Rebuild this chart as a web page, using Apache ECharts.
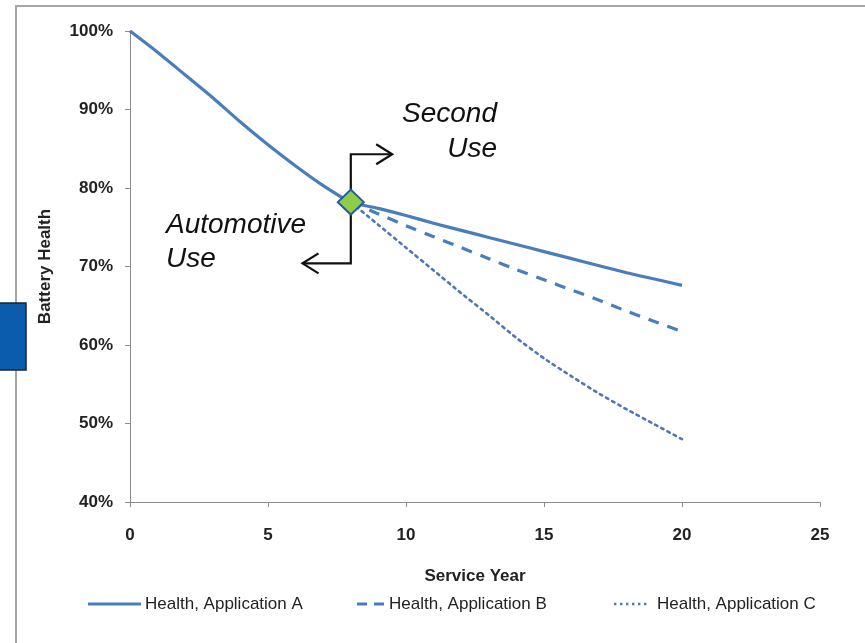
<!DOCTYPE html>
<html>
<head>
<meta charset="utf-8">
<style>
  html, body { margin: 0; padding: 0; background: #ffffff; }
  #chart { width: 865px; height: 643px; }
</style>
<script src="https://cdn.jsdelivr.net/npm/echarts@6/dist/echarts.min.js"></script>
</head>
<body>
<div id="chart"></div>
<script>
// Service years and battery health (%) for each application
const years = [0, 1, 2, 3, 4, 5, 6, 7, 8, 9, 10, 11, 12, 13, 14, 15, 16, 17, 18, 19, 20];
const healthA = [100, 97.3, 94.4, 91.5, 88.4, 85.5, 82.8, 80.3, 78.2, 77.4, 76.5, 75.5, 74.6, 73.7, 72.8, 71.9, 71.0, 70.1, 69.2, 68.4, 67.6];
const healthB = [null, null, null, null, null, null, null, null, 78.2, 76.7, 75.2, 73.8, 72.4, 71.0, 69.6, 68.3, 67.0, 65.7, 64.3, 63.0, 61.7];
const healthC = [null, null, null, null, null, null, null, null, 78.2, 75.3, 72.4, 69.5, 66.6, 63.8, 60.9, 58.3, 56.0, 53.8, 51.8, 49.9, 48.0];
const seriesNames = ['Health, Application A', 'Health, Application B', 'Health, Application C'];

// Hand-over point between automotive and second use
const switchPoint = [8, 78.2];
// Bracket around the hand-over point (year / health %)
const bracketTop = 84.3;
const bracketBottom = 70.4;
const arrowRightYear = 9.5;
const arrowLeftYear = 6.25;

const xTicks = { min: 0, max: 25, interval: 5 };
const yTicks = { min: 40, max: 100, interval: 10 };

const lineBlue = '#4a7ebb';
const axisGrey = '#8c8c8c';
const font = '"Liberation Sans", Arial, sans-serif';

const pairs = arr => years.map((y, i) => [y, arr[i]]);

const chart = echarts.init(document.getElementById('chart'), null, { renderer: 'canvas' });

chart.setOption({
  animation: false,
  backgroundColor: '#ffffff',
  grid: { left: 130, right: 45, top: 31, bottom: 141 },
  xAxis: {
    type: 'value',
    min: xTicks.min, max: xTicks.max, interval: xTicks.interval,
    name: 'Service Year',
    nameLocation: 'middle',
    nameGap: 66,
    nameTextStyle: { fontFamily: font, fontSize: 17, fontWeight: 'bold', color: '#222' },
    axisLine: { show: true, lineStyle: { color: axisGrey, width: 1 } },
    axisTick: { show: true, length: 5, lineStyle: { color: axisGrey } },
    axisLabel: { margin: 25, fontFamily: font, fontSize: 17, fontWeight: 'bold', color: '#222' },
    splitLine: { show: false }
  },
  yAxis: {
    type: 'value',
    min: yTicks.min, max: yTicks.max, interval: yTicks.interval,
    name: 'Battery Health',
    nameLocation: 'middle',
    nameGap: 76,
    nameRotate: 90,
    nameTextStyle: { fontFamily: font, fontSize: 17, fontWeight: 'bold', color: '#222' },
    axisLine: { show: true, lineStyle: { color: axisGrey, width: 1 } },
    axisTick: { show: true, length: 5, lineStyle: { color: axisGrey } },
    axisLabel: { margin: 17, formatter: '{value}%', fontFamily: font, fontSize: 17, fontWeight: 'bold', color: '#222' },
    splitLine: { show: false }
  },
  series: [
    {
      name: seriesNames[0], type: 'line', data: pairs(healthA),
      showSymbol: false, smooth: 0.2, connectNulls: false,
      lineStyle: { color: lineBlue, width: 3.2 }, z: 3
    },
    {
      name: seriesNames[1], type: 'line', data: pairs(healthB),
      showSymbol: false, smooth: 0.2,
      lineStyle: { color: lineBlue, width: 3.2, type: [11, 9] }, z: 2
    },
    {
      name: seriesNames[2], type: 'line', data: pairs(healthC),
      showSymbol: false, smooth: 0.2,
      lineStyle: { color: '#5276b0', width: 2.6, type: [2.6, 4.4], cap: 'round' }, z: 2
    },
    {
      name: 'Switch', type: 'scatter', data: [switchPoint],
      symbol: 'diamond', symbolSize: [26, 25],
      itemStyle: { color: '#8fcc4a', borderColor: '#1f5b9e', borderWidth: 2, opacity: 1 }, z: 5
    }
  ]
});

// Bracket, arrow heads, annotations, legend and frame
function px(x, y) { return chart.convertToPixel({ gridIndex: 0 }, [x, y]); }
const bTop = px(switchPoint[0], bracketTop);
const bBottom = px(switchPoint[0], bracketBottom);
const rightEnd = px(arrowRightYear, bracketTop);
const leftEnd = px(arrowLeftYear, bracketBottom);

const black = { stroke: '#111', lineWidth: 2.2, fill: null };
const italic = { fontFamily: 'Arial, "Liberation Sans", sans-serif', fontSize: 28, fontStyle: 'italic', fill: '#111' };
const legendText = { fontFamily: font, fontSize: 17, fill: '#222' };
const legendY = 604;

chart.setOption({
  graphic: [
    // outer frame of the chart area
    { type: 'rect', shape: { x: 16, y: 6, width: 900, height: 700 }, style: { fill: null, stroke: '#a6a6a6', lineWidth: 2 }, z: 0, silent: true },
    // blue tab at the left edge
    { type: 'rect', shape: { x: -2, y: 303, width: 28, height: 67 }, style: { fill: '#0b5cad', stroke: '#1b2430', lineWidth: 1.5 }, z: 1 },
    // bracket (kept beneath the hand-over diamond)
    { type: 'polyline', shape: { points: [[rightEnd[0], bTop[1]], [bTop[0], bTop[1]], [bBottom[0], bBottom[1]], [leftEnd[0], bBottom[1]]] }, style: black, z: 1 },
    { type: 'polyline', shape: { points: [[rightEnd[0] - 16, bTop[1] - 10], [rightEnd[0], bTop[1]], [rightEnd[0] - 16, bTop[1] + 10]] }, style: black, z: 1 },
    { type: 'polyline', shape: { points: [[leftEnd[0] + 16, bBottom[1] - 10], [leftEnd[0], bBottom[1]], [leftEnd[0] + 16, bBottom[1] + 10]] }, style: black, z: 1 },
    // annotations
    { type: 'text', x: 497, y: 114, style: Object.assign({ text: 'Second', align: 'right', verticalAlign: 'middle' }, italic), z: 10 },
    { type: 'text', x: 497, y: 149, style: Object.assign({ text: 'Use', align: 'right', verticalAlign: 'middle' }, italic), z: 10 },
    { type: 'text', x: 166, y: 225, style: Object.assign({ text: 'Automotive', align: 'left', verticalAlign: 'middle' }, italic), z: 10 },
    { type: 'text', x: 166, y: 259, style: Object.assign({ text: 'Use', align: 'left', verticalAlign: 'middle' }, italic), z: 10 },
    // legend
    { type: 'line', shape: { x1: 88, y1: legendY, x2: 141, y2: legendY }, style: { stroke: lineBlue, lineWidth: 3.2 } },
    { type: 'text', x: 145, y: legendY, style: Object.assign({ text: seriesNames[0], verticalAlign: 'middle' }, legendText) },
    { type: 'line', shape: { x1: 357, y1: legendY, x2: 384, y2: legendY }, style: { stroke: lineBlue, lineWidth: 3.2, lineDash: [10, 7] } },
    { type: 'text', x: 389, y: legendY, style: Object.assign({ text: seriesNames[1], verticalAlign: 'middle' }, legendText) },
    { type: 'line', shape: { x1: 614, y1: legendY, x2: 648, y2: legendY }, style: { stroke: '#5276b0', lineWidth: 2.6, lineDash: [2.4, 3.6] } },
    { type: 'text', x: 657, y: legendY, style: Object.assign({ text: seriesNames[2], verticalAlign: 'middle' }, legendText) }
  ]
});
</script>
</body>
</html>
